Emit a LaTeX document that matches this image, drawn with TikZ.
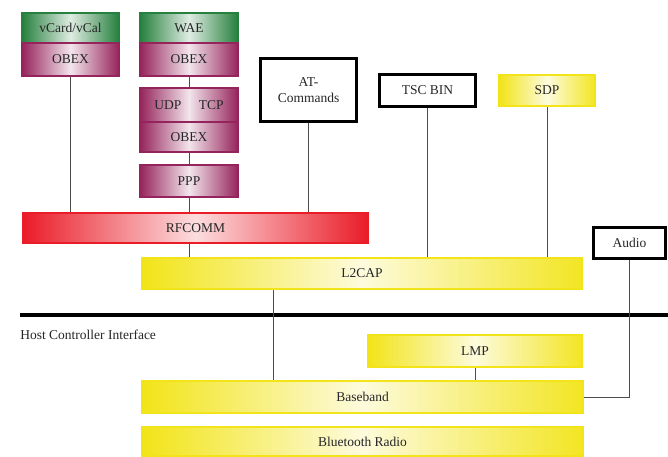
\documentclass[tikz,border=0pt]{standalone}
\usepackage{fontspec}
\setmainfont{Liberation Serif}
\usetikzlibrary{positioning}
\definecolor{obexmaroon}{RGB}{150,36,92}
\definecolor{appgreen}{RGB}{38,128,62}
\definecolor{rfred}{RGB}{234,28,40}
\definecolor{bandyellow}{RGB}{242,228,24}
\tikzset{
    layer/.style = {inner sep=0,font=\fontsize{9.6}{11}\selectfont,text=black!85},
    greenbox/.style = {layer,draw=appgreen,line width=1.5pt,left color=appgreen,right color=appgreen,middle color=appgreen!15},
    obexbox/.style = {layer,draw=obexmaroon,line width=1.5pt,left color=obexmaroon,right color=obexmaroon,middle color=obexmaroon!12},
    redbar/.style = {layer,draw=rfred,line width=1.5pt,left color=rfred,right color=rfred,middle color=rfred!15},
    yellowbar/.style = {layer,draw=bandyellow,line width=1.5pt,left color=bandyellow,right color=bandyellow!95,middle color=bandyellow!15},
    plainbox/.style = {layer,draw=black,line width=2pt,fill=white},
    wire/.style = {draw=black!70,line width=0.6pt},
    hci/.style = {line width=2.8pt}
}
\begin{document}
\begin{tikzpicture}[x=0.025cm,y=-0.025cm]
        \useasboundingbox (0,0) rectangle (668,457);
        % Upper protocols
        \node[greenbox,minimum width=2.42cm,minimum height=0.75cm] (vcard) at (70.5,28) {vCard/vCal};
        \node[obexbox,minimum width=2.42cm,minimum height=0.82cm] (obexA) at (70.5,59.5) {OBEX};
        \node[greenbox,minimum width=2.45cm,minimum height=0.75cm] (wae) at (189,28) {WAE};
        \node[obexbox,minimum width=2.45cm,minimum height=0.82cm] (obexB) at (189,59.5) {OBEX};
        \node[obexbox,minimum width=2.45cm,minimum height=0.85cm] (udptcp) at (189,105) {UDP\hspace{1.3em}TCP};
        \node[obexbox,minimum width=2.45cm,minimum height=0.75cm] (obexC) at (189,137) {OBEX};
        \node[obexbox,minimum width=2.45cm,minimum height=0.8cm] (ppp) at (189,181) {PPP};
        \node[plainbox,minimum width=2.38cm,minimum height=1.56cm,align=center] (at) at (308.5,90) {AT-\\Commands};
        \node[plainbox,minimum width=2.38cm,minimum height=0.78cm] (tsc) at (427.5,90.5) {TSC BIN};
        \node[yellowbar,minimum width=2.4cm,minimum height=0.78cm] (sdp) at (547,90.5) {SDP};
        % Middle layers
        \node[redbar,minimum width=8.62cm,minimum height=0.75cm] (rfcomm) at (195.5,228) {RFCOMM};
        \node[yellowbar,minimum width=11cm,minimum height=0.78cm] (l2cap) at (362,273.5) {L2CAP};
        \node[plainbox,minimum width=1.78cm,minimum height=0.76cm] (audio) at (629.5,243) {Audio};
        % Host controller interface
        \coordinate (hcil) at (20,315);
        \coordinate (hcir) at (668,315);
        \draw[hci] (hcil) -- (hcir);
        \node[layer,anchor=west] (hcitext) at (20,335) {Host Controller Interface};
        % Lower layers
        \node[yellowbar,minimum width=5.35cm,minimum height=0.8cm] (lmp) at (475,351) {LMP};
        \node[yellowbar,minimum width=11.02cm,minimum height=0.8cm] (baseband) at (362.5,397) {Baseband};
        \node[yellowbar,minimum width=11.02cm,minimum height=0.72cm] (radio) at (362.5,441.5) {Bluetooth Radio};
        \coordinate (l2bb) at (273,0);
        % Links
        \foreach \src/\dest in {obexA/rfcomm,obexB/udptcp,obexC/ppp,at/rfcomm,tsc/l2cap,sdp/l2cap,lmp/baseband}
            \draw[wire] (\src.south) -- (\src.south |- \dest.north);
        \draw[wire] (ppp.south) -- (ppp.south |- rfcomm.north);
        \draw[wire] (rfcomm.south -| ppp) -- (l2cap.north -| ppp);
        \draw[wire] (l2cap.south -| l2bb) -- (baseband.north -| l2bb);
        \draw[wire] (audio.south) |- (baseband.east);
\end{tikzpicture}
\end{document}
